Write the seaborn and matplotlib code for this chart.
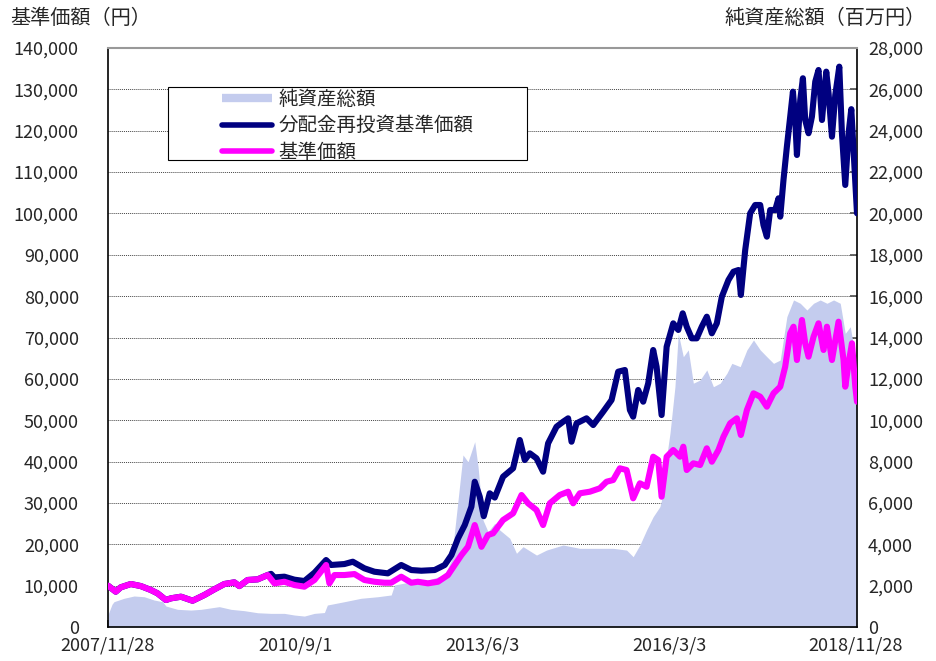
import matplotlib
matplotlib.use("Agg")
import matplotlib.pyplot as plt
from matplotlib.lines import Line2D
from matplotlib.patches import Rectangle
import pandas as pd
import seaborn as sns

# time stamps are decimal years
# 基準価額 (円)
nav_t = [2007.907, 2008.021, 2008.094, 2008.242, 2008.389, 2008.537, 2008.634, 2008.758, 2008.832, 2008.979,
         2009.150, 2009.323, 2009.470, 2009.618, 2009.765, 2009.839, 2009.961, 2010.109, 2010.256, 2010.355,
         2010.502, 2010.650, 2010.797, 2010.945, 2011.117, 2011.166, 2011.240, 2011.387, 2011.535, 2011.682,
         2011.829, 2011.977, 2012.076, 2012.223, 2012.371, 2012.468, 2012.615, 2012.763, 2012.910, 2013.009,
         2013.108, 2013.205, 2013.304, 2013.403, 2013.500, 2013.574, 2013.721, 2013.869, 2013.993, 2014.090,
         2014.214, 2014.311, 2014.410, 2014.557, 2014.680, 2014.754, 2014.852, 2015.000, 2015.147, 2015.246,
         2015.343, 2015.442, 2015.541, 2015.638, 2015.737, 2015.836, 2015.933, 2016.007, 2016.057, 2016.131,
         2016.228, 2016.327, 2016.376, 2016.426, 2016.523, 2016.622, 2016.721, 2016.795, 2016.892, 2016.966,
         2017.064, 2017.163, 2017.222, 2017.311, 2017.408, 2017.507, 2017.605, 2017.703, 2017.802, 2017.875,
         2017.949, 2017.998, 2018.048, 2018.122, 2018.170, 2018.219, 2018.293, 2018.366, 2018.440, 2018.490,
         2018.564, 2018.661, 2018.735, 2018.760, 2018.809, 2018.859, 2018.908, 2018.933]
nav_v = [10000, 8540, 9600, 10400, 9900, 8950, 8150, 6530, 6940, 7330,
         6360, 7740, 9110, 10400, 10800, 9900, 11370, 11530, 12570, 10560,
         10950, 10150, 9750, 11370, 15000, 10560, 12570, 12570, 12810, 11370,
         10950, 10710, 10710, 12170, 10710, 10950, 10560, 10950, 12570, 15000,
         17400, 19420, 24660, 19400, 22250, 22660, 25870, 27490, 31920, 29910,
         28290, 24660, 29910, 31920, 32720, 29910, 32330, 32720, 33540, 35130,
         35540, 38370, 37960, 31120, 34750, 33920, 41180, 40380, 31510, 41180,
         42800, 41180, 43600, 37960, 39580, 39170, 43210, 39970, 42800, 46020,
         49250, 50460, 46430, 52470, 56510, 55690, 53270, 56510, 58110, 62940,
         71020, 72610, 64560, 74230, 68600, 65360, 70190, 73430, 66980, 72610,
         64560, 73820, 64560, 58110, 63760, 68600, 58110, 54480]

# 分配金再投資基準価額
reinv_t = [2007.907, 2008.021, 2008.094, 2008.242, 2008.389, 2008.537, 2008.634, 2008.758, 2008.832, 2008.979,
           2009.150, 2009.323, 2009.470, 2009.618, 2009.765, 2009.839, 2009.961, 2010.109, 2010.256, 2010.306,
           2010.355, 2010.502, 2010.650, 2010.797, 2010.945, 2011.117, 2011.191, 2011.387, 2011.510, 2011.682,
           2011.829, 2012.026, 2012.223, 2012.371, 2012.518, 2012.714, 2012.862, 2012.961, 2013.058, 2013.157,
           2013.255, 2013.304, 2013.378, 2013.437, 2013.525, 2013.599, 2013.721, 2013.869, 2013.968, 2014.041,
           2014.115, 2014.214, 2014.311, 2014.385, 2014.509, 2014.606, 2014.680, 2014.730, 2014.804, 2014.951,
           2015.049, 2015.196, 2015.320, 2015.417, 2015.516, 2015.590, 2015.638, 2015.712, 2015.786, 2015.860,
           2015.933, 2015.983, 2016.057, 2016.131, 2016.228, 2016.302, 2016.367, 2016.426, 2016.500, 2016.573,
           2016.647, 2016.721, 2016.795, 2016.868, 2016.942, 2017.039, 2017.113, 2017.187, 2017.222, 2017.286,
           2017.359, 2017.433, 2017.507, 2017.555, 2017.605, 2017.654, 2017.728, 2017.777, 2017.802, 2017.850,
           2017.900, 2017.949, 2017.989, 2018.023, 2018.048, 2018.097, 2018.136, 2018.170, 2018.219, 2018.269,
           2018.318, 2018.366, 2018.417, 2018.480, 2018.514, 2018.564, 2018.613, 2018.672, 2018.711, 2018.760,
           2018.809, 2018.849, 2018.882, 2018.933]
reinv_v = [10000, 8540, 9600, 10400, 9900, 8950, 8150, 6530, 6940, 7330,
           6360, 7740, 9110, 10400, 10800, 9900, 11370, 11530, 12570, 12850,
           12000, 12170, 11450, 11120, 13130, 16200, 15000, 15230, 15790, 14190,
           13370, 12980, 15000, 13780, 13610, 13780, 15000, 17400, 21450, 24660,
           29100, 35130, 31500, 26800, 32330, 31300, 36340, 38380, 45220, 40380,
           42000, 40790, 37550, 44420, 48430, 49640, 50460, 44800, 49250, 50460,
           48840, 52060, 54890, 61730, 62140, 52470, 50850, 57310, 54480, 58930,
           66980, 62940, 51260, 67780, 73430, 71820, 75850, 72610, 69800, 69800,
           72610, 75030, 71020, 73430, 79870, 83900, 85910, 86320, 80280, 91160,
           100030, 102040, 102040, 97200, 94380, 100830, 100830, 103660, 99220, 108090,
           116140, 123400, 129440, 122590, 114130, 127420, 132680, 122590, 119380, 123400,
           131860, 134680, 122590, 134280, 129040, 118560, 128640, 135490, 119380, 106880,
           119380, 125210, 115350, 100030]

# 純資産総額 (百万円)
aum_t = [2007.907, 2007.966, 2007.995, 2008.143, 2008.290, 2008.438, 2008.585, 2008.708, 2008.758, 2008.929,
         2009.126, 2009.274, 2009.470, 2009.544, 2009.716, 2009.913, 2010.109, 2010.306, 2010.502, 2010.650,
         2010.797, 2010.945, 2011.092, 2011.136, 2011.387, 2011.633, 2011.878, 2012.076, 2012.124, 2012.371,
         2012.615, 2012.862, 2012.961, 2013.058, 2013.131, 2013.205, 2013.304, 2013.353, 2013.426, 2013.500,
         2013.599, 2013.673, 2013.820, 2013.919, 2014.016, 2014.214, 2014.361, 2014.606, 2014.852, 2015.099,
         2015.343, 2015.541, 2015.638, 2015.737, 2015.836, 2015.933, 2016.032, 2016.081, 2016.131, 2016.180,
         2016.253, 2016.302, 2016.376, 2016.449, 2016.523, 2016.622, 2016.721, 2016.818, 2016.917, 2017.016,
         2017.089, 2017.212, 2017.311, 2017.408, 2017.507, 2017.605, 2017.703, 2017.802, 2017.900, 2017.998,
         2018.097, 2018.195, 2018.293, 2018.391, 2018.490, 2018.588, 2018.686, 2018.760, 2018.834, 2018.908,
         2018.933]
aum_v = [600, 1100, 1225, 1390, 1500, 1465, 1305, 1225, 1015, 855,
         820, 855, 950, 985, 855, 790, 690, 660, 660, 580,
         530, 660, 700, 1064, 1225, 1390, 1465, 1550, 2030, 2190,
         2270, 2515, 3240, 6140, 8320, 7990, 8960, 7750, 5170, 4610,
         5015, 4690, 4290, 3565, 3885, 3480, 3720, 3965, 3805, 3805,
         3805, 3720, 3400, 3965, 4690, 5335, 5820, 6465, 8235, 9370,
         11620, 14200, 13070, 13400, 11790, 11945, 12430, 11620, 11790, 12270,
         12750, 12590, 13400, 13880, 13400, 13070, 12750, 12910, 15010, 15815,
         15655, 15330, 15655, 15815, 15655, 15815, 15655, 14200, 14520, 13070,
         12000]

tick_dates = ["2007-11-28", "2010-09-01", "2013-06-03", "2016-03-03", "2018-11-28"]
tick_labels = ["2007/11/28", "2010/9/1", "2013/6/3", "2016/3/3", "2018/11/28"]
labels = ["純資産総額", "分配金再投資基準価額", "基準価額"]

area_color = "#C4CCEE"
navy = "#000080"
pink = "#FF00FF"


def to_date(t):
    y = int(t)
    start = pd.Timestamp(y, 1, 1)
    return start + (pd.Timestamp(y + 1, 1, 1) - start) * (t - y)


def frame(ts, vs):
    return pd.DataFrame({"date": [to_date(t) for t in ts], "value": vs})


nav = frame(nav_t, nav_v)
reinv = frame(reinv_t, reinv_v)
aum = frame(aum_t, aum_v)

sns.set_theme(style="white")
plt.rcParams["font.family"] = ["Noto Sans CJK JP", "DejaVu Sans"]

fig = plt.figure(figsize=(9.36, 6.61), dpi=100)
ax = fig.add_axes([0.1154, 0.0514, 0.8002, 0.8760])

# area on the base axes (right scale), grid sits below it
ax.fill_between(aum["date"], aum["value"], color=area_color, linewidth=0, zorder=1)
ax.set_ylim(0, 28000)
ax.set_yticks(range(0, 28001, 2000))
ax.set_axisbelow(True)
ax.grid(axis="y", color="#444444", linestyle=(0, (1, 1)), linewidth=0.7)
ax.grid(axis="x", visible=False)

ax2 = ax.twinx()
sns.lineplot(data=reinv, x="date", y="value", ax=ax2, color=navy, linewidth=4.4,
             solid_capstyle="round", solid_joinstyle="round")
sns.lineplot(data=nav, x="date", y="value", ax=ax2, color=pink, linewidth=4.4,
             solid_capstyle="round", solid_joinstyle="round")
ax2.set_ylim(0, 140000)
ax2.set_yticks(range(0, 140001, 10000))
ax2.set_xlabel("")
ax2.set_ylabel("")
ax2.grid(False)

ax.yaxis.tick_right()
ax2.yaxis.tick_left()
ax.set_yticklabels([f"{v:,}" for v in range(0, 28001, 2000)])
ax2.set_yticklabels([f"{v:,}" for v in range(0, 140001, 10000)])

ax.set_xlim(nav["date"].iloc[0], nav["date"].iloc[-1])
ax.set_xticks(pd.to_datetime(tick_dates))
ax.set_xticklabels(tick_labels)

ax.tick_params(axis="y", which="both", direction="in", length=5, right=True, left=False,
               labelright=True, labelleft=False, labelsize=13, pad=8, color="#555555")
ax.tick_params(axis="x", direction="in", length=5, bottom=True, labelsize=13, pad=7, color="#333333")
ax2.tick_params(axis="y", direction="in", length=0, left=True, right=False,
                labelleft=True, labelright=False, labelsize=13, pad=21)
for lbl in ax2.get_yticklabels():
    lbl.set_horizontalalignment("right")

for side in ["left", "right", "bottom"]:
    ax.spines[side].set_color("black")
    ax.spines[side].set_linewidth(1.2)
ax.spines["top"].set_color("#999999")
ax.spines["top"].set_linewidth(1.5)
for side in ax2.spines:
    ax2.spines[side].set_visible(False)

# legend box
ax2.add_patch(Rectangle((0.0801, 0.8066), 0.4793, 0.126, transform=ax2.transAxes,
                        facecolor="white", edgecolor="black", linewidth=0.8, zorder=4))
handles = [Line2D([], [], color=area_color, linewidth=6, solid_capstyle="butt"),
           Line2D([], [], color=navy, linewidth=4, solid_capstyle="round"),
           Line2D([], [], color=pink, linewidth=4, solid_capstyle="round")]
leg = ax2.legend(handles, labels, loc="upper left", bbox_to_anchor=(0.152, 0.93),
                 frameon=False, fontsize=14, handlelength=2.6, handletextpad=0.3,
                 labelspacing=0.3, borderpad=0, borderaxespad=0)
leg.set_zorder(5)

fig.text(0.011, 0.972, "基準価額（円）", fontsize=14.5, ha="left", va="center")
fig.text(0.989, 0.972, "純資産総額（百万円）", fontsize=14.5, ha="right", va="center")

fig.savefig("out.png", dpi=100)
